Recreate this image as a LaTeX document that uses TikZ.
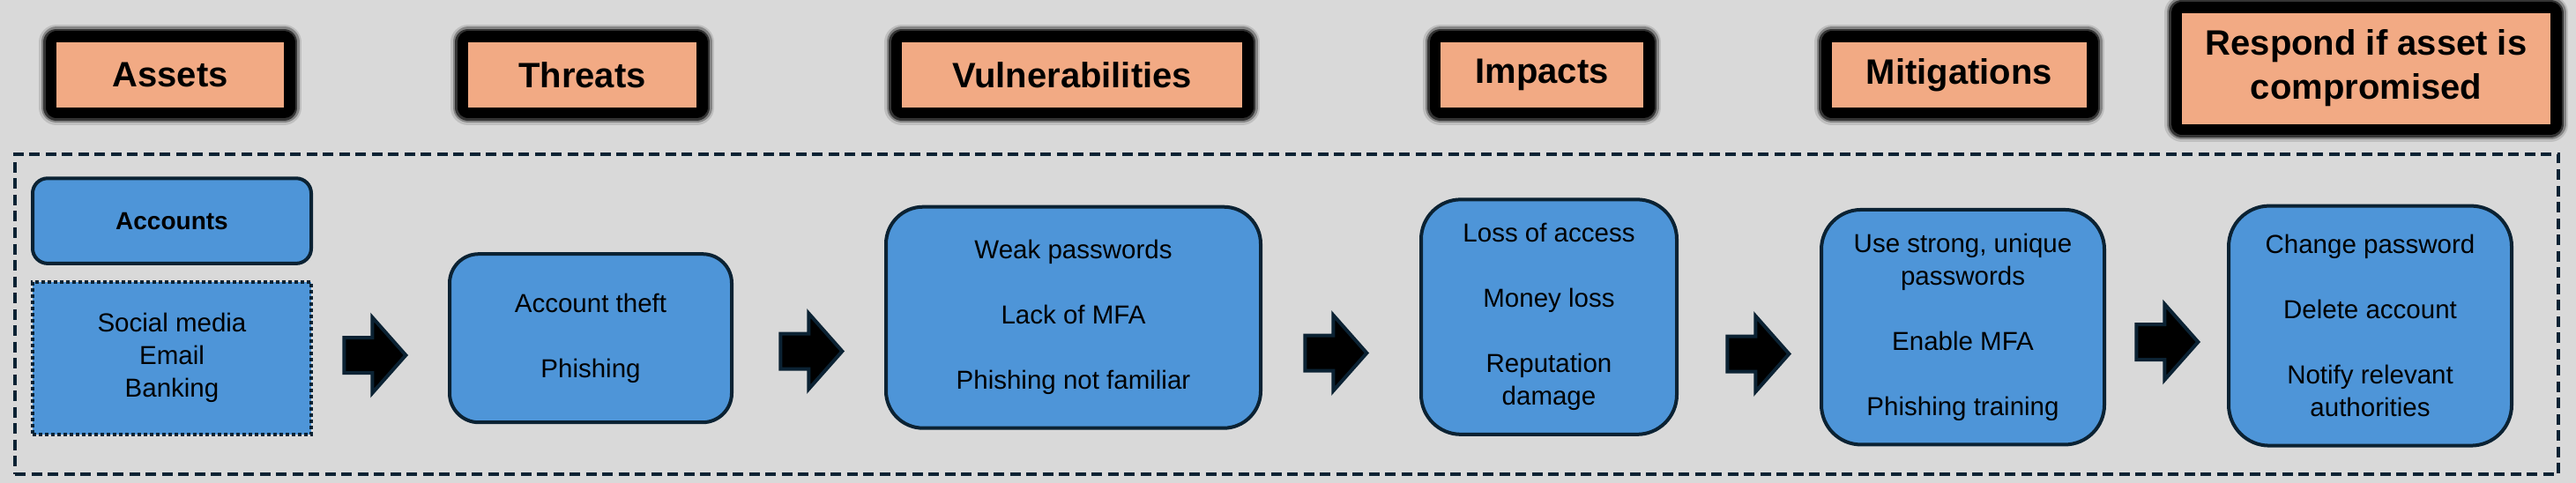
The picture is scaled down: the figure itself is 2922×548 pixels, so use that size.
\documentclass[tikz,border=0pt]{standalone}
\usepackage{fontspec}
\setmainfont{Liberation Sans}
\usetikzlibrary{shapes.arrows,positioning}
\definecolor{bgGray}{HTML}{D9D9D9}
\definecolor{hdrOrange}{HTML}{F2AA84}
\definecolor{boxBlue}{HTML}{4E95D8}
\definecolor{lineNavy}{HTML}{0B2233}

\begin{document}
\begin{tikzpicture}[x=1pt,y=-1pt,
        hdr/.style={fill=hdrOrange, inner sep=0pt, align=center,
            font=\fontsize{40}{50}\selectfont\bfseries,
            preaction={draw=black, opacity=0.12, line width=40pt, line join=round},
            preaction={draw=black, opacity=0.3, line width=35pt, line join=round},
            preaction={draw=black, opacity=0.6, line width=30pt, line join=round},
            preaction={draw=black, line width=25pt, line join=round}},
        itembox/.style={fill=boxBlue, draw=lineNavy, line width=4pt, align=center,
            inner sep=0pt, font=\fontsize{29.5}{37}\selectfont},
        blk/.style={single arrow, anchor=tip, fill=black, draw=lineNavy, line width=4pt,
            minimum height=70pt, inner xsep=0pt, inner ysep=18pt,
            single arrow head extend=23pt, single arrow tip angle=97}]
        \fill[bgGray] (0,0) rectangle (2922,548);
        \useasboundingbox (0,0) rectangle (2922,548);
        \node[draw=lineNavy, line width=4pt, dash pattern=on 12pt off 6.5pt,
            minimum width=2885pt, minimum height=363pt, inner sep=0pt] (FRAME) at (1459.5,356.5) {};
        % headers
        \node[hdr, minimum width=258pt, minimum height=74pt] (HAST) at (193,85) {Assets};
        \node[hdr, minimum width=259pt, minimum height=74pt] (HTHR) at (660.5,85) {Threats};
        \node[hdr, minimum width=386pt, minimum height=74pt] (HVUL) at (1216,85) {Vulnerabilities};
        \node[hdr, minimum width=230pt, minimum height=74pt] (HIMP) at (1749,85) {Impacts};
        \node[hdr, minimum width=289pt, minimum height=74pt] (HMIT) at (2222.5,85) {Mitigations};
        \node[hdr, minimum width=418pt, minimum height=126pt] (HRSP) at (2684,77.6) {Respond if asset is\\compromised};
        % boxes
        \node[itembox, rounded corners=17pt, minimum width=316pt, minimum height=96.6pt,
            font=\fontsize{28}{34}\selectfont\bfseries] (ACC) at ([shift={+(2,165.6)}]HAST) {Accounts};
        \node[itembox, dash pattern=on 4pt off 3pt, minimum width=316pt, minimum height=173pt] (LST) at ([shift={+(0,155.7)}]ACC) {Social media\\Email\\Banking};
        \node[itembox, rounded corners=33pt, minimum width=320pt, minimum height=191pt] (THRB) at ([shift={+(9.5,298.7)}]HTHR) {Account theft\\[37pt]Phishing};
        \node[itembox, rounded corners=42pt, minimum width=425pt, minimum height=251pt] (VULB) at ([shift={+(1.5,275.2)}]HVUL) {Weak passwords\\[37pt]Lack of MFA\\[37pt]Phishing not familiar};
        \node[itembox, rounded corners=45pt, minimum width=290pt, minimum height=266.5pt] (IMPB) at ([shift={+(8,274.6)}]HIMP) {Loss of access\\[37pt]Money loss\\[37pt]Reputation\\damage};
        \node[itembox, rounded corners=45pt, minimum width=321pt, minimum height=266.5pt] (MITB) at ([shift={+(4,286.2)}]HMIT) {Use strong, unique\\passwords\\[37pt]Enable MFA\\[37pt]Phishing training};
        \node[itembox, rounded corners=46pt, minimum width=321pt, minimum height=272pt] (RSPB) at ([shift={+(4.5,292)}]HRSP) {Change password\\[37pt]Delete account\\[37pt]Notify relevant\\authorities};
        % block arrows (placed by their tips)
        \node[blk] (AR1) at (463,403) {};
        \node[blk] (AR2) at (958,398.5) {};
        \node[blk] (AR3) at (1553,400.5) {};
        \node[blk] (AR4) at (2032,401.5) {};
        \node[blk] (AR5) at (2496,388) {};
    \end{tikzpicture}
\end{document}
